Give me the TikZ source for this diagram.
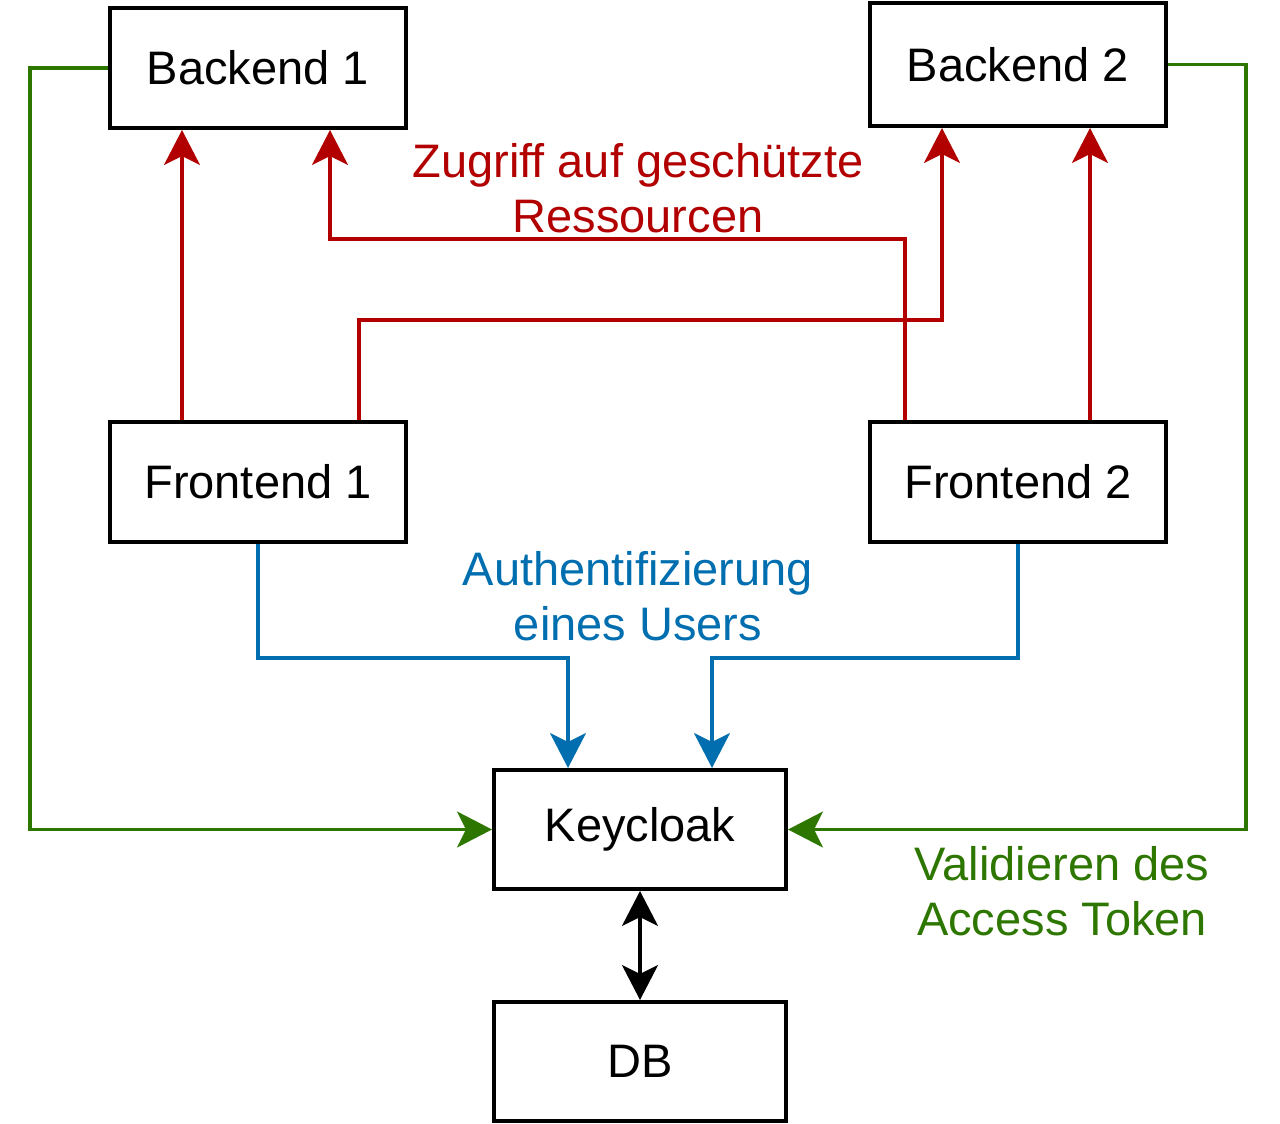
\documentclass[tikz,border=0pt]{standalone}
\usepackage{fontspec}
\setmainfont{Liberation Sans}
\usetikzlibrary{arrows.meta}
\definecolor{cred}{HTML}{B20000}
\definecolor{cblue}{HTML}{006EAF}
\definecolor{cgreen}{HTML}{2D7600}
\begin{document}
\begin{tikzpicture}[x=0.5pt,y=-0.5pt,
  box/.style={draw=black,line width=2pt,fill=white,minimum width=148pt,minimum height=60pt,inner sep=0pt,font=\fontsize{23.5}{27.5}\selectfont},
  lbl/.style={align=center,font=\fontsize{23.5}{27.5}\selectfont},
  conn/.style={line width=1.6pt,-{Stealth[length=17.5pt,width=18pt,inset=4.5pt]}}]
\useasboundingbox (0,0) rectangle (1280,1124);
\node[box] (b1) at (258,68) {Backend 1};
\node[box,minimum height=61.5pt] (b2) at (1018,64.5) {Backend 2};
\node[box] (f1) at (258,482) {Frontend 1};
\node[box] (f2) at (1018,482) {Frontend 2};
\node[box,minimum width=146pt,minimum height=59.5pt] (kc) at (640,829.5) {Keycloak};
\node[box,minimum width=146pt,minimum height=59.5pt] (db) at (640,1061.5) {DB};
% red
\draw[conn,cred] ([xshift=37pt]f1.north west) -- ([xshift=37pt]b1.south west);
\draw[conn,cred] ([xshift=125.5pt]f1.north west) -- ++(0,-100) -| ([xshift=37pt]b2.south west);
\draw[conn,cred] ([xshift=18.5pt]f2.north west) -- ++(0,-181) -| ([xshift=111pt]b1.south west);
\draw[conn,cred] ([xshift=111pt]f2.north west) -- ([xshift=111pt]b2.south west);
% blue
\draw[conn,cblue] (f1.south) -- ++(0,114) -| ([xshift=-36pt]kc.north);
\draw[conn,cblue] (f2.south) -- ++(0,114) -| ([xshift=36pt]kc.north);
% green
\draw[conn,cgreen] (b1.west) -- ++(-78,0) |- (kc.west);
\draw[conn,cgreen] (b2.east) -- ++(78,0) |- (kc.east);
% black
\draw[line width=1.6pt,{Stealth[length=17.5pt,width=18pt,inset=4.5pt]}-{Stealth[length=17.5pt,width=18pt,inset=4.5pt]}] (kc.south) -- (db.north);
% labels
\node[lbl,text=cred] (lr) at (638,188) {Zugriff auf geschützte\\Ressourcen};
\node[lbl,text=cblue] (lb) at (638,596) {Authentifizierung\\eines Users};
\node[lbl,text=cgreen] (lg) at (1062,891) {Validieren des\\Access Token};
\end{tikzpicture}
\end{document}
